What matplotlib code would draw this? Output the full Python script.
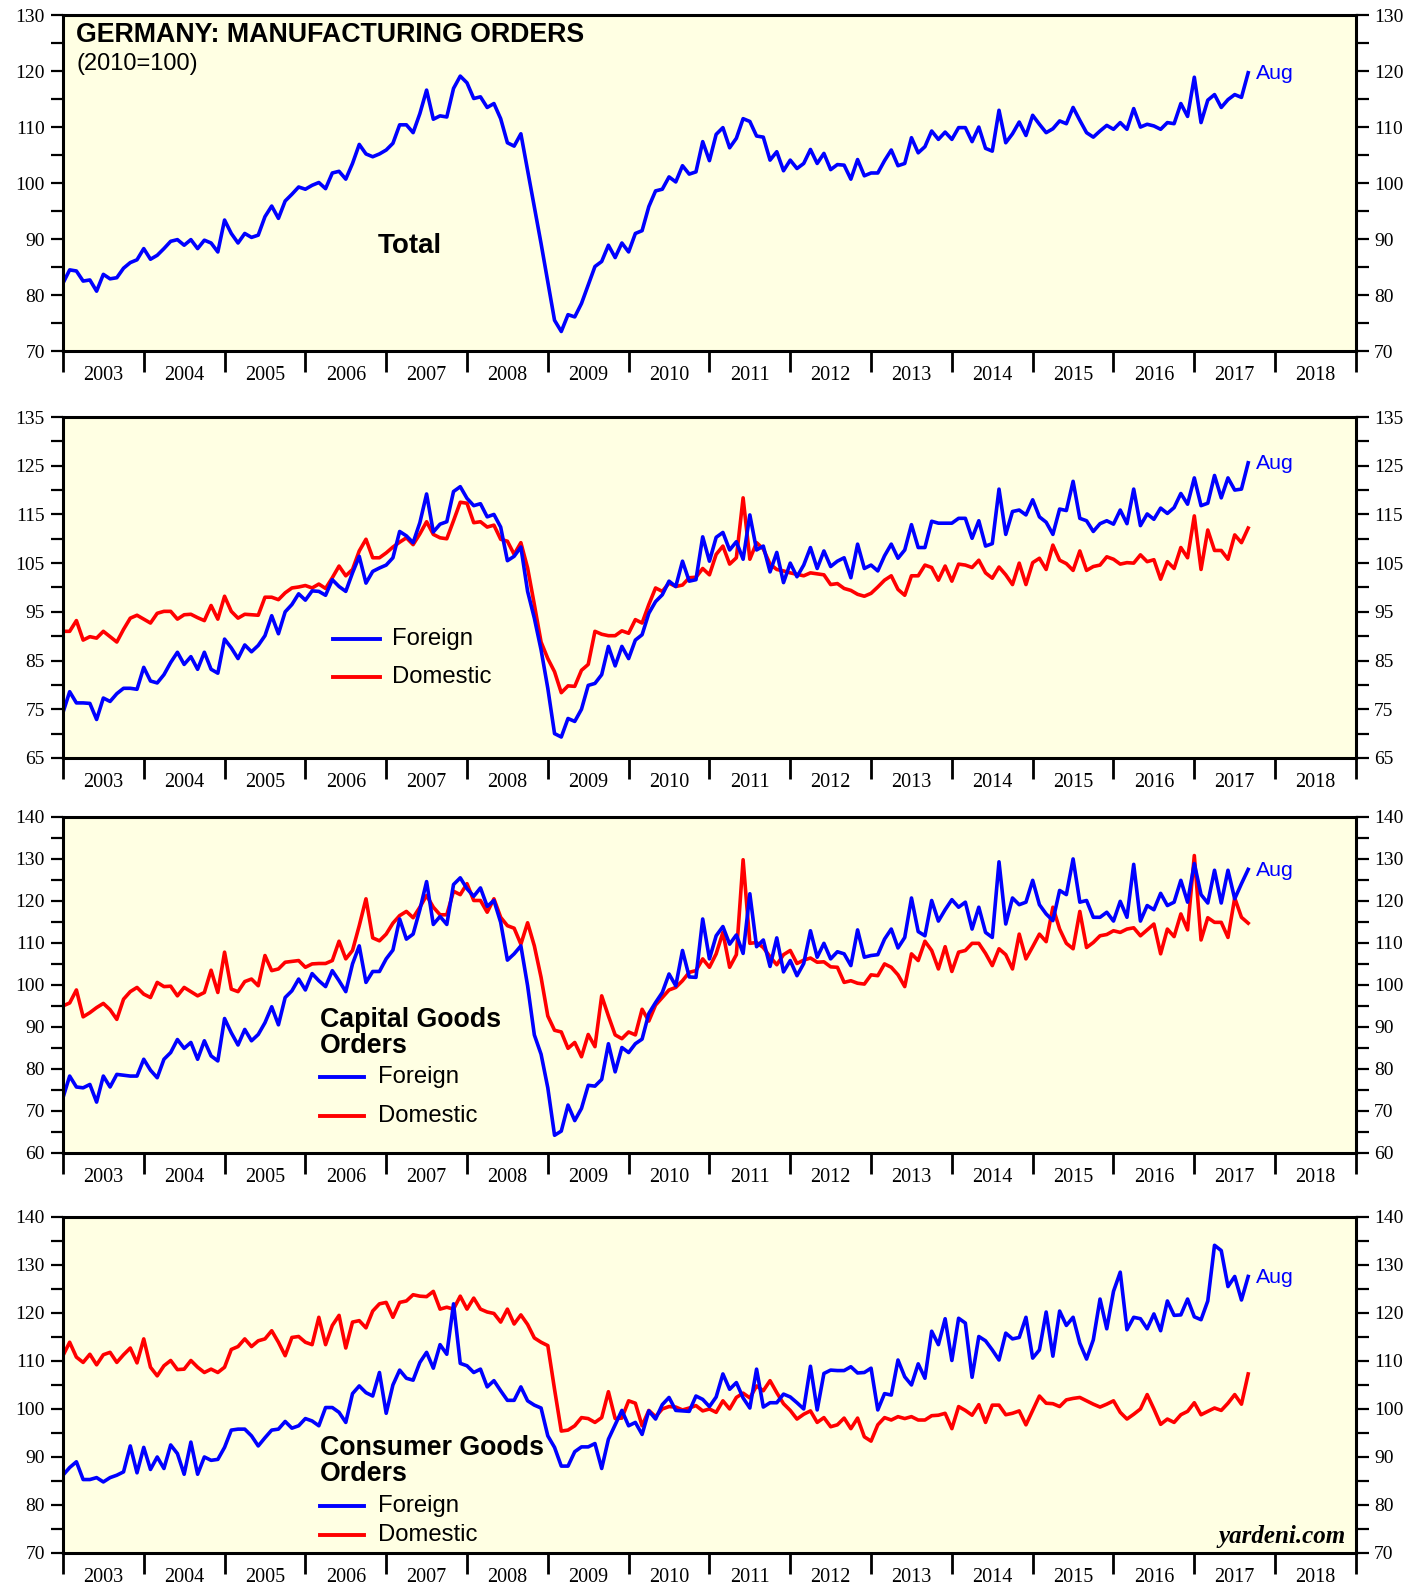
import numpy as np
import matplotlib
matplotlib.use("Agg")
from matplotlib import pyplot as plt

# monthly index values, Dec 2002 .. Aug 2017 (2010=100)
total = [
    82.1, 84.5, 84.3, 82.5, 82.7, 80.7, 83.7, 82.9, 83.1, 84.8, 85.8, 86.3,
    88.3, 86.4, 87.1, 88.3, 89.6, 89.9, 88.9, 89.9, 88.3, 89.8, 89.3, 87.7,
    93.4, 91.0, 89.3, 91.0, 90.3, 90.7, 94.0, 95.9, 93.7, 96.8, 98.0, 99.3,
    98.9, 99.6, 100.1, 99.0, 101.8, 102.1, 100.7, 103.5, 106.9, 105.2, 104.7, 105.2,
    105.9, 107.1, 110.4, 110.4, 109.0, 112.4, 116.6, 111.4, 112.0, 111.8, 116.9, 119.1,
    117.9, 115.1, 115.4, 113.5, 114.2, 111.5, 107.2, 106.6, 108.8, 102.3, 95.8, 89.2,
    82.4, 75.5, 73.5, 76.5, 76.1, 78.5, 81.8, 85.1, 86.0, 88.9, 86.7, 89.3,
    87.7, 91.0, 91.5, 95.8, 98.6, 98.9, 101.1, 100.2, 103.1, 101.6, 102.0, 107.4,
    104.0, 108.7, 109.9, 106.3, 108.0, 111.5, 111.0, 108.4, 108.2, 104.1, 105.6, 102.2,
    104.1, 102.6, 103.5, 106.0, 103.5, 105.3, 102.4, 103.3, 103.2, 100.7, 104.2, 101.3,
    101.8, 101.8, 104.0, 105.9, 103.1, 103.5, 108.1, 105.4, 106.5, 109.3, 107.8, 109.1,
    107.8, 109.9, 109.9, 107.4, 110.0, 106.2, 105.7, 113.0, 107.2, 108.8, 110.9, 108.5,
    112.1, 110.5, 109.0, 109.7, 111.1, 110.6, 113.5, 111.2, 109.0, 108.2, 109.3, 110.3,
    109.6, 110.8, 109.6, 113.3, 110.0, 110.5, 110.2, 109.6, 110.8, 110.6, 114.2, 111.9,
    118.9, 110.8, 114.8, 115.8, 113.5, 114.9, 115.8, 115.3, 119.7,
]

foreign = [
    74.3, 78.6, 76.3, 76.3, 76.2, 72.9, 77.3, 76.6, 78.2, 79.3, 79.3, 79.1,
    83.6, 80.8, 80.4, 82.1, 84.6, 86.7, 84.2, 85.8, 83.2, 86.7, 83.2, 82.4,
    89.4, 87.6, 85.4, 88.2, 86.8, 88.1, 90.1, 94.2, 90.5, 95.0, 96.5, 98.7,
    97.4, 99.3, 99.2, 98.4, 101.6, 100.2, 99.2, 103.0, 106.4, 100.9, 103.3, 104.0,
    104.6, 106.1, 111.5, 110.6, 109.2, 113.3, 119.2, 111.4, 113.0, 113.5, 119.7, 120.7,
    118.3, 116.8, 117.2, 114.5, 115.0, 112.4, 105.5, 106.4, 108.3, 99.2, 93.7, 87.2,
    79.3, 70.0, 69.3, 73.1, 72.5, 75.0, 79.9, 80.3, 82.1, 87.9, 83.9, 87.9,
    85.4, 89.2, 90.3, 94.7, 97.1, 98.5, 101.3, 100.2, 105.4, 101.3, 101.6, 110.4,
    105.4, 110.3, 111.3, 107.7, 109.4, 105.8, 114.9, 107.7, 108.5, 103.2, 107.2, 101.0,
    105.0, 102.2, 104.6, 108.2, 103.9, 107.5, 104.3, 105.4, 106.1, 102.0, 108.9, 103.9,
    104.6, 103.4, 106.5, 108.9, 106.0, 107.7, 112.9, 108.2, 108.2, 113.6, 113.2, 113.2,
    113.2, 114.2, 114.2, 110.1, 113.7, 108.5, 109.0, 120.2, 110.9, 115.6, 115.9, 114.9,
    118.0, 114.5, 113.4, 110.9, 116.1, 115.8, 121.8, 114.2, 113.7, 111.5, 113.1, 113.7,
    113.0, 115.9, 113.1, 120.2, 112.7, 115.1, 114.0, 116.3, 115.2, 116.4, 119.3, 117.1,
    122.5, 116.8, 117.3, 123.0, 118.4, 122.5, 120.0, 120.2, 125.6,
]

domestic = [
    91.0, 91.0, 93.2, 89.2, 89.9, 89.6, 91.0, 89.9, 88.8, 91.4, 93.7, 94.3,
    93.5, 92.7, 94.7, 95.1, 95.1, 93.5, 94.4, 94.5, 93.8, 93.2, 96.3, 93.5,
    98.2, 95.1, 93.7, 94.5, 94.4, 94.3, 98.0, 98.0, 97.5, 98.9, 99.9, 100.1,
    100.4, 99.9, 100.7, 99.8, 102.0, 104.4, 102.4, 103.7, 107.5, 109.9, 106.1, 106.1,
    107.1, 108.3, 109.3, 110.2, 108.8, 111.0, 113.5, 110.9, 110.2, 110.0, 113.7, 117.5,
    117.3, 113.3, 113.5, 112.4, 112.8, 109.9, 109.5, 106.8, 109.2, 104.0, 96.5, 88.8,
    85.4, 82.7, 78.4, 79.8, 79.7, 83.0, 84.2, 91.0, 90.4, 90.1, 90.1, 91.1,
    90.6, 93.4, 92.7, 96.5, 99.9, 99.2, 100.9, 100.2, 100.5, 102.0, 102.1, 103.9,
    102.6, 106.8, 108.5, 104.8, 106.1, 118.4, 105.8, 109.2, 107.9, 104.8, 103.7, 103.4,
    103.0, 102.7, 102.4, 103.0, 102.8, 102.6, 100.6, 100.8, 99.8, 99.4, 98.6, 98.2,
    98.8, 100.1, 101.5, 102.4, 99.6, 98.4, 102.4, 102.4, 104.6, 104.1, 101.5, 104.4,
    101.3, 104.8, 104.6, 104.1, 105.6, 103.0, 101.9, 104.2, 102.6, 100.6, 105.0, 100.6,
    105.1, 106.0, 103.7, 108.7, 105.6, 104.9, 103.5, 107.5, 103.5, 104.3, 104.6, 106.3,
    105.8, 104.8, 105.1, 105.0, 106.7, 105.3, 105.7, 101.7, 105.3, 103.9, 108.2, 106.1,
    114.7, 103.7, 111.8, 107.6, 107.6, 105.8, 110.8, 109.2, 112.2,
]

cap_foreign = [
    73.1, 78.3, 75.7, 75.5, 76.3, 72.1, 78.3, 75.7, 78.7, 78.5, 78.3, 78.3,
    82.3, 79.7, 77.9, 82.3, 83.9, 87.0, 84.9, 86.3, 82.3, 86.7, 83.1, 81.9,
    92.0, 88.6, 85.7, 89.4, 86.7, 88.2, 91.0, 94.8, 90.5, 97.0, 98.6, 101.4,
    98.8, 102.7, 101.0, 99.6, 103.4, 101.0, 98.4, 105.0, 109.3, 100.6, 103.2, 103.2,
    106.2, 108.3, 115.7, 110.9, 112.1, 117.9, 124.6, 114.4, 116.3, 114.4, 123.9, 125.5,
    122.9, 121.1, 123.1, 118.7, 120.1, 114.9, 105.9, 107.4, 109.3, 99.8, 88.1, 83.5,
    75.5, 64.2, 65.2, 71.4, 67.7, 70.6, 76.1, 75.9, 77.5, 86.0, 79.3, 85.1,
    83.9, 86.0, 87.1, 93.2, 95.8, 98.2, 102.6, 99.8, 108.2, 101.9, 101.8, 115.7,
    106.2, 111.7, 113.9, 109.7, 111.9, 107.5, 121.7, 109.1, 110.7, 104.4, 111.2, 103.1,
    105.8, 102.2, 105.1, 112.9, 106.6, 109.9, 106.2, 107.9, 107.4, 104.6, 113.1, 106.6,
    107.0, 107.2, 110.9, 113.3, 108.8, 111.3, 120.7, 112.7, 111.7, 120.1, 115.2, 117.9,
    120.3, 118.5, 119.7, 113.3, 118.5, 112.5, 111.3, 129.3, 114.5, 120.7, 119.1, 119.7,
    124.9, 119.1, 116.9, 115.3, 122.5, 121.5, 130.0, 119.7, 120.1, 116.1, 116.1, 117.3,
    115.2, 119.9, 116.1, 128.7, 115.2, 118.9, 117.9, 121.8, 118.9, 119.7, 124.9, 119.7,
    128.9, 121.5, 119.5, 127.3, 119.5, 127.3, 120.5, 124.1, 127.5,
]

cap_domestic = [
    95.0, 95.7, 98.8, 92.4, 93.4, 94.6, 95.6, 94.1, 91.8, 96.6, 98.4, 99.4,
    97.8, 97.0, 100.6, 99.6, 99.7, 97.4, 99.4, 98.4, 97.4, 98.2, 103.5, 98.2,
    107.8, 99.0, 98.4, 100.8, 101.4, 99.8, 107.0, 103.4, 103.8, 105.4, 105.6, 105.8,
    104.2, 105.0, 105.1, 105.1, 105.8, 110.4, 106.2, 108.2, 114.1, 120.5, 111.2, 110.5,
    112.1, 114.7, 116.5, 117.5, 116.0, 118.5, 121.3, 118.5, 116.7, 116.7, 122.3, 121.5,
    124.1, 120.1, 120.1, 117.3, 120.5, 116.1, 114.1, 113.5, 109.7, 114.8, 109.3, 101.8,
    92.6, 89.2, 88.8, 84.9, 86.3, 82.9, 88.2, 85.3, 97.4, 92.6, 88.1, 87.2,
    88.8, 88.1, 94.2, 91.4, 95.2, 97.0, 98.8, 99.4, 101.0, 103.0, 103.4, 106.2,
    104.2, 107.4, 112.5, 104.2, 107.2, 129.8, 109.9, 110.1, 108.9, 106.7, 104.8, 107.2,
    108.2, 105.1, 105.9, 106.4, 105.4, 105.5, 104.3, 104.2, 100.6, 101.0, 100.4, 100.2,
    102.4, 102.2, 105.0, 104.2, 102.4, 99.6, 107.4, 105.8, 110.4, 108.2, 103.8, 109.1,
    103.2, 107.8, 108.2, 109.9, 109.9, 107.5, 104.6, 108.6, 107.2, 103.8, 112.1, 106.2,
    109.1, 112.1, 110.3, 118.5, 113.3, 109.9, 108.6, 117.5, 108.9, 110.1, 111.7, 112.0,
    112.9, 112.5, 113.3, 113.6, 111.7, 113.1, 114.5, 107.4, 113.3, 111.5, 116.9, 113.1,
    130.8, 110.7, 116.0, 114.9, 114.9, 111.3, 120.7, 116.1, 114.7,
]

cons_foreign = [
    86.2, 87.8, 89.0, 85.3, 85.3, 85.7, 84.8, 85.7, 86.2, 86.9, 92.3, 86.7,
    92.0, 87.4, 90.0, 87.6, 92.5, 90.7, 86.4, 93.1, 86.4, 90.0, 89.3, 89.5,
    92.0, 95.6, 95.8, 95.8, 94.4, 92.3, 94.0, 95.6, 95.8, 97.4, 96.0, 96.5,
    98.0, 97.5, 96.5, 100.3, 100.3, 99.3, 97.2, 103.2, 104.8, 103.4, 102.7, 107.6,
    99.1, 105.0, 108.1, 106.4, 106.0, 109.7, 111.8, 108.5, 113.4, 111.4, 121.9, 109.5,
    109.0, 107.6, 108.3, 104.6, 105.9, 103.8, 101.8, 101.8, 104.6, 101.7, 100.8, 100.2,
    94.4, 92.0, 88.1, 88.1, 91.1, 92.1, 92.1, 92.8, 87.6, 93.7, 96.7, 99.7,
    96.5, 97.2, 94.7, 99.6, 97.9, 100.9, 102.4, 99.7, 99.6, 99.5, 102.7, 102.0,
    100.5, 102.5, 107.3, 104.1, 105.5, 102.3, 100.2, 108.3, 100.4, 101.3, 101.3, 103.1,
    102.5, 101.3, 100.0, 108.9, 99.8, 107.4, 108.1, 108.0, 108.0, 108.8, 107.5, 107.6,
    108.5, 99.8, 103.2, 102.9, 110.2, 106.7, 105.0, 109.4, 106.4, 116.2, 113.4, 118.8,
    110.1, 118.9, 117.9, 106.6, 115.1, 114.2, 112.3, 110.2, 115.8, 114.6, 114.9, 119.1,
    110.6, 112.3, 120.2, 111.0, 120.4, 117.4, 119.1, 113.7, 110.4, 114.4, 122.9, 116.7,
    124.5, 128.5, 116.5, 119.1, 118.8, 116.7, 119.8, 116.3, 122.5, 119.5, 119.6, 122.9,
    119.2, 118.6, 122.5, 134.1, 133.0, 125.5, 127.6, 122.7, 127.6,
]

cons_domestic = [
    111.1, 113.9, 110.8, 109.7, 111.4, 109.2, 111.3, 111.8, 109.7, 111.3, 112.7, 109.6,
    114.6, 108.7, 106.9, 109.0, 110.1, 108.2, 108.3, 110.1, 108.7, 107.6, 108.3, 107.6,
    108.7, 112.4, 113.0, 114.6, 113.0, 114.2, 114.6, 116.3, 113.9, 111.1, 114.9, 115.1,
    113.9, 113.4, 119.1, 113.4, 117.4, 119.5, 112.7, 118.1, 118.4, 116.9, 120.4, 121.9,
    122.2, 119.1, 122.2, 122.5, 123.8, 123.5, 123.4, 124.5, 120.8, 121.2, 120.8, 123.5,
    120.8, 123.1, 120.8, 120.2, 119.9, 118.1, 120.8, 117.7, 119.6, 117.6, 114.8, 113.9,
    113.2, 104.1, 95.4, 95.6, 96.5, 98.2, 98.0, 97.2, 98.2, 103.6, 98.0, 98.1,
    101.7, 101.2, 96.5, 99.7, 98.4, 100.0, 100.5, 100.4, 99.8, 100.2, 100.7, 99.6,
    100.0, 99.3, 101.7, 100.0, 102.4, 103.3, 102.3, 104.8, 103.8, 105.9, 103.4, 101.1,
    99.7, 97.9, 98.9, 99.6, 97.2, 98.2, 96.3, 96.7, 98.1, 95.9, 98.1, 94.2,
    93.3, 96.7, 98.2, 97.7, 98.4, 98.0, 98.4, 97.7, 97.7, 98.6, 98.7, 99.1,
    95.9, 100.5, 99.7, 98.7, 100.9, 97.2, 100.8, 100.8, 98.8, 99.1, 99.6, 96.7,
    99.7, 102.7, 101.2, 101.1, 100.5, 101.9, 102.2, 102.4, 101.7, 101.0, 100.4, 101.0,
    101.7, 99.3, 97.9, 98.9, 100.0, 103.0, 100.0, 96.8, 97.9, 97.2, 98.8, 99.5,
    101.3, 98.8, 99.5, 100.2, 99.7, 101.2, 103.0, 101.0, 107.3,
]

year_labels = [str(y) for y in range(2003, 2019)]
x = 2003 + np.arange(len(total)) / 12.0

BLUE = "#0000ff"
RED = "#ff0000"
BG = "#ffffe3"
BOLD = 19.3
plt.rcParams["font.family"] = ["Liberation Sans", "DejaVu Sans"]

fig = plt.figure(figsize=(14.27, 15.85), dpi=100)
left, width = 0.0441, 0.9061
boxes = [
    [left, 0.7785, width, 0.2120],
    [left, 0.5218, width, 0.2151],
    [left, 0.2726, width, 0.2120],
    [left, 0.0202, width, 0.2120],
]
ranges = [(70, 130), (65, 135), (60, 140), (70, 140)]


def style(ax, lo, hi):
    ax.set_facecolor(BG)
    ax.set_xlim(2003, 2019)
    ax.set_ylim(lo, hi)
    for s in ax.spines.values():
        s.set_linewidth(2.2)
    # year ticks at boundaries, labels centred between them
    ax.set_xticks(range(2003, 2020))
    ax.set_xticklabels([])
    ax.set_xticks([y + 0.5 for y in range(2003, 2019)], minor=True)
    ax.set_xticklabels(year_labels, minor=True)
    ax.tick_params(axis="x", which="major", direction="out", length=15, width=2, top=False)
    ax.tick_params(axis="x", which="minor", length=0, pad=11, labelsize=14.5,
                   labelfontfamily="Liberation Serif")
    ax.set_yticks(np.arange(lo, hi + 1, 10))
    ax.set_yticks(np.arange(lo + 5, hi, 10), minor=True)
    ax.tick_params(axis="y", which="both", direction="out", length=9, width=1.6,
                   left=True, right=True, labelleft=True, labelright=True,
                   labelsize=14, pad=4, labelfontfamily="Liberation Serif")


def legend(ax, x0, x1, xt, y_f, y_d, size=17.2):
    for y, col, lab in [(y_f, BLUE, "Foreign"), (y_d, RED, "Domestic")]:
        ax.plot([x0, x1], [y, y], color=col, lw=2.8, transform=ax.transAxes)
        ax.text(xt, y, lab, transform=ax.transAxes, fontsize=size, va="center")


def aug(ax, y):
    ax.text(0.9227, y, "Aug", transform=ax.transAxes, fontsize=15.3,
            color=BLUE, va="center")


axes = [fig.add_axes(b) for b in boxes]
for ax, (lo, hi) in zip(axes, ranges):
    style(ax, lo, hi)

lw = 2.6
# panel 1 total
ax = axes[0]
ax.plot(x, total, color=BLUE, lw=lw)
ax.text(0.0102, 0.940, "GERMANY: MANUFACTURING ORDERS", transform=ax.transAxes,
        fontsize=BOLD, fontweight="bold", va="center")
ax.text(0.0102, 0.855, "(2010=100)", transform=ax.transAxes, fontsize=17, va="center")
ax.text(0.268, 0.313, "Total", transform=ax.transAxes, fontsize=20,
        fontweight="bold", ha="center", va="center")
aug(ax, 0.825)

# panel 2 foreign vs domestic
ax = axes[1]
ax.plot(x, domestic, color=RED, lw=lw)
ax.plot(x, foreign, color=BLUE, lw=lw)
legend(ax, 0.209, 0.245, 0.2547, 0.350, 0.237)
aug(ax, 0.8635)

# panel 3 capital goods
ax = axes[2]
ax.plot(x, cap_domestic, color=RED, lw=lw)
ax.plot(x, cap_foreign, color=BLUE, lw=lw)
ax.text(0.199, 0.396, "Capital Goods", transform=ax.transAxes, fontsize=BOLD,
        fontweight="bold", va="center")
ax.text(0.199, 0.318, "Orders", transform=ax.transAxes, fontsize=BOLD,
        fontweight="bold", va="center")
legend(ax, 0.199, 0.233, 0.244, 0.225, 0.111)
aug(ax, 0.841)

# panel 4 consumer goods
ax = axes[3]
ax.plot(x, cons_domestic, color=RED, lw=lw)
ax.plot(x, cons_foreign, color=BLUE, lw=lw)
ax.text(0.199, 0.312, "Consumer Goods", transform=ax.transAxes, fontsize=BOLD,
        fontweight="bold", va="center")
ax.text(0.199, 0.234, "Orders", transform=ax.transAxes, fontsize=BOLD,
        fontweight="bold", va="center")
legend(ax, 0.199, 0.233, 0.244, 0.141, 0.054)
aug(ax, 0.820)
ax.text(0.992, 0.048, "yardeni.com", transform=ax.transAxes, fontsize=18,
        fontfamily="Liberation Serif", fontweight="bold", fontstyle="italic",
        ha="right", va="center")

fig.savefig("out.png", dpi=100, facecolor="white")
